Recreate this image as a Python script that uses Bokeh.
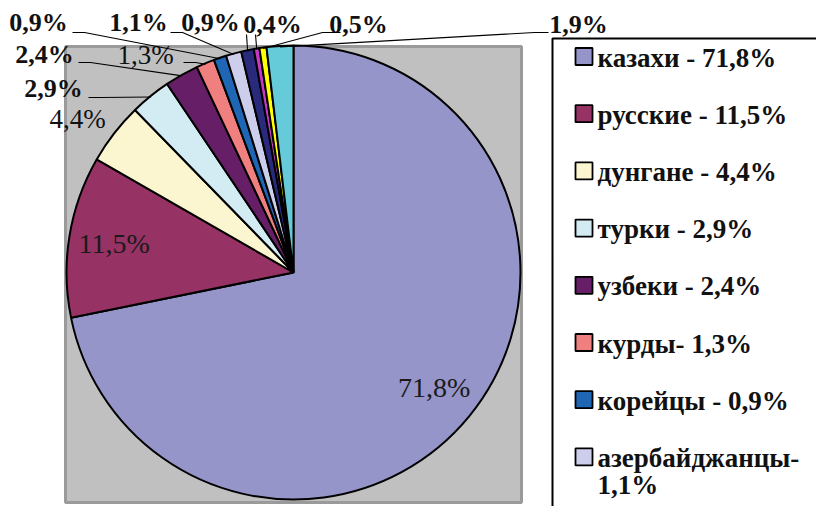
import numpy as np
from bokeh.plotting import figure
from bokeh.models import Range1d, ColumnDataSource
from bokeh.core.properties import value
from bokeh.embed import file_html
from bokeh.resources import INLINE

# ---------------- data ----------------
groups = ["казахи", "русские", "дунгане", "турки", "узбеки", "курды",
          "корейцы", "азербайджанцы", "группа 9", "группа 10", "группа 11", "группа 12"]
shares = [71.8, 11.5, 4.4, 2.9, 2.4, 1.3, 0.9, 1.1, 0.9, 0.4, 0.5, 1.9]
colors = ["#9595c9", "#963264", "#fbf6cf", "#d3ebf3", "#661f66", "#f07f80",
          "#1f66b4", "#cdcdec", "#2a2a7c", "#c638c6", "#ffff00", "#66cbd8"]
legend_labels = ["казахи - 71,8%", "русские - 11,5%", "дунгане - 4,4%", "турки - 2,9%",
                 "узбеки - 2,4%", "курды- 1,3%", "корейцы - 0,9%", "азербайджанцы-\n1,1%"]

# ---------------- layout (page pixel coordinates) ----------------
W, H = 816, 506
def px(x):  # page x -> data x
    return x
def py(y):  # page y -> data y
    return H - y

CX, CY, R = px(293), py(272), 227
FONT = value("Liberation Serif")

# outside label positions (page coords) and leader elbow points, by slice index
outside = {
    2: dict(pos=(77, 118), elbow=None, bold=False, size="27px"),
    3: dict(pos=(53, 88), elbow=[(88, 97), (100, 97)], bold=True, size="26px"),
    4: dict(pos=(44, 54), elbow=[(78, 62), (90, 62)], bold=True, size="26px"),
    5: dict(pos=(145, 54), elbow=[(183, 62), (195, 62)], bold=False, size="27px"),
    6: dict(pos=(38, 22), elbow=[(72, 32), (84, 32)], bold=True, size="26px"),
    7: dict(pos=(138, 22), elbow=[(170, 32), (182, 32)], bold=True, size="26px"),
    8: dict(pos=(210, 22), elbow=[(246, 34)], bold=True, size="26px"),
    9: dict(pos=(272, 24), elbow=[(255, 34)], bold=True, size="26px"),
    10: dict(pos=(358, 24), elbow=[(340, 32), (322, 32)], bold=True, size="26px"),
    11: dict(pos=(578, 24), elbow=[(548, 32), (534, 32)], bold=True, size="26px"),
}

p = figure(width=W, height=H, x_range=Range1d(0, W), y_range=Range1d(0, H),
           output_backend="svg", toolbar_location=None, min_border=0)
p.axis.visible = False
p.grid.visible = False
p.outline_line_color = None
p.background_fill_color = "white"
p.border_fill_color = "white"

# gray plot area
p.quad(left=[px(65)], right=[px(521)], top=[py(46)], bottom=[py(502)],
       fill_color="#c0c0c0", line_color="#9a9a9a", line_width=3)

# pie
s = np.array(shares) / 100.0
cum = np.cumsum(s)
start = np.pi / 2 - 2 * np.pi * (cum - s)
end = np.pi / 2 - 2 * np.pi * cum
mid = (start + end) / 2
src = ColumnDataSource(dict(start=start, end=end, color=colors,
                            x=[CX] * len(s), y=[CY] * len(s)))
p.wedge(x="x", y="y", radius=R, start_angle="start", end_angle="end",
        direction="clock", fill_color="color", line_color="black", line_width=2,
        source=src)

def pct(v):
    return f"{v:.1f}%".replace(".", ",")

# inside labels
for i in (0, 1):
    p.text(x=[CX + 0.8 * R * np.cos(mid[i])], y=[CY + 0.8 * R * np.sin(mid[i])],
           text=[pct(shares[i])], text_align="center", text_baseline="middle",
           text_font=FONT, text_font_size="28px", text_color="#1a1a1a")

# outside labels with leader lines
xs, ys = [], []
for i, o in outside.items():
    lx, ly = o["pos"]
    p.text(x=[px(lx)], y=[py(ly)], text=[pct(shares[i])], text_align="center",
           text_baseline="middle", text_font=FONT, text_font_size=o["size"],
           text_font_style="bold" if o["bold"] else "normal", text_color="#111111")
    if o["elbow"]:
        ex = [px(a) for a, b in o["elbow"]] + [CX + (R - 1) * np.cos(mid[i])]
        ey = [py(b) for a, b in o["elbow"]] + [CY + (R - 1) * np.sin(mid[i])]
        xs.append(ex)
        ys.append(ey)
p.multi_line(xs=xs, ys=ys, line_color="black", line_width=1.1)

# legend box
p.quad(left=[px(552)], right=[px(900)], top=[py(38)], bottom=[py(700)],
       fill_color="white", line_color="black", line_width=2)
n = len(legend_labels)
ly = [py(56 + 57.2 * k) for k in range(n)]
p.rect(x=[px(583.5)] * n, y=ly, width=17, height=17, fill_color=colors[:n],
       line_color="black", line_width=1.8)
p.text(x=[px(597)] * n, y=[v + 14 for v in ly], text=legend_labels,
       text_align="left", text_baseline="top", text_font=FONT,
       text_font_size="27px", text_font_style="bold", text_color="#111111",
       text_line_height=0.92)

open("out.html", "w").write(file_html(p, INLINE))
